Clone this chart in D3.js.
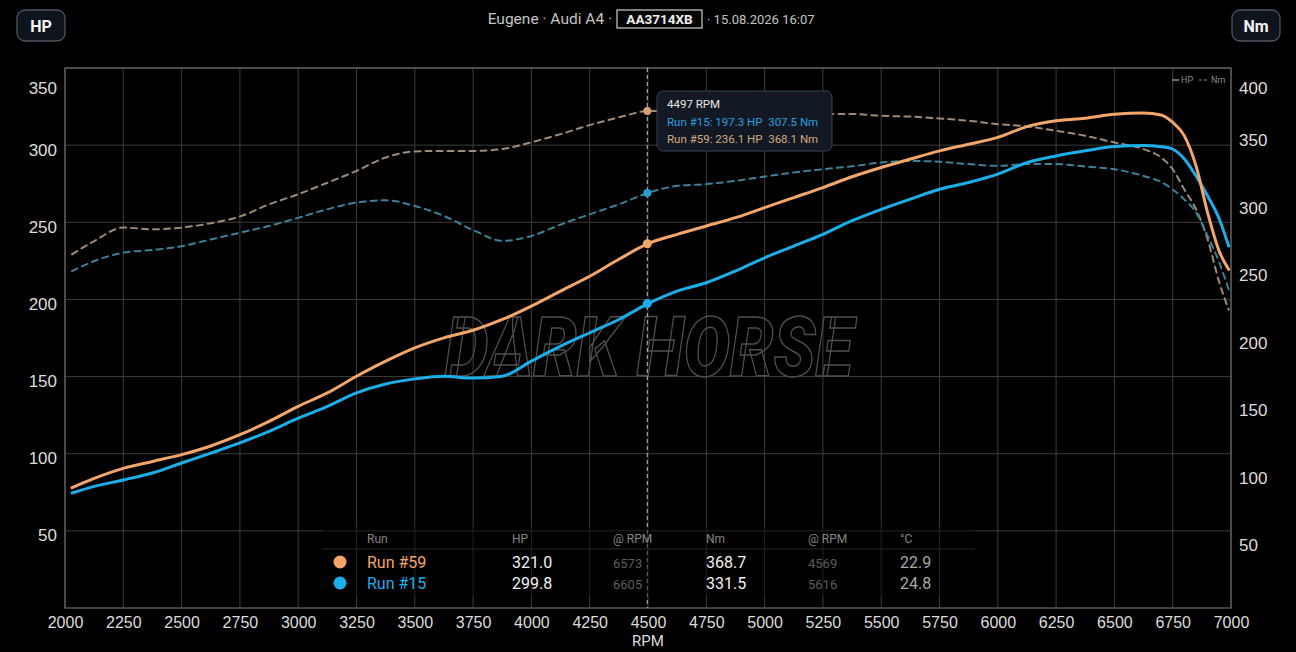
<!DOCTYPE html>
<html lang="en">
  <head>
    <meta charset="UTF-8" />
    <title>Dyno</title>
    <style>
      html, body { margin: 0; padding: 0; background: #000; }
      svg { display: block; font-family: Roboto, "Noto Sans", sans-serif; }
    </style>
  </head>
  <body>
    <svg id="chart"></svg>
    <script src="https://cdnjs.cloudflare.com/ajax/libs/d3/7.4.4/d3.min.js"></script>
    <script>
      // readings off the dyno sheet
      const rpm = [2030, 2125, 2250, 2375, 2500, 2625, 2750, 2875, 3000, 3125, 3250, 3375, 3500, 3625, 3750,
        3875, 4000, 4125, 4250, 4375, 4500, 4625, 4750, 4875, 5000, 5125, 5250, 5375, 5500, 5625, 5750,
        5875, 6000, 6125, 6250, 6375, 6500, 6625, 6700, 6750, 6800, 6850, 6900, 6950, 6990];

      const hp59 = [78, 84, 90.5, 95, 99.4, 105, 112.3, 121, 130.7, 139.4, 150.2, 160, 168.6, 175.1, 180,
        187, 195.7, 205.4, 215, 226, 236.1, 242.2, 247.6, 253, 259.5, 266, 272.5, 279.5, 285.5, 291, 296.3,
        300.6, 305, 312, 315.8, 317.5, 320, 320.8, 319.5, 314.7, 306, 286.6, 256, 231, 219.5];
      const hp15 = [74.5, 78.8, 83, 87.5, 94, 100.4, 107, 114.5, 123, 130.7, 139.4, 145.2, 148.5, 150.2, 149,
        150.2, 160, 169.7, 178.4, 187, 197.3, 205.4, 210.8, 218.4, 227, 234.6, 242.2, 251, 258.4, 265, 271.4,
        275.8, 281.2, 288.7, 293, 296.3, 299.1, 299.7, 299, 297.4, 291, 280, 267, 252, 234.6];
      const nm59 = [262, 271.8, 281.8, 280.5, 281.8, 285, 290, 299, 306.5, 315, 323.8, 333.7, 338.2, 338.6, 338.6,
        340, 345, 351, 357.7, 363.4, 368.1, 368.3, 367.6, 366.8, 366.5, 366.2, 366, 365.9, 364.6, 364, 362.6,
        360.9, 358.4, 356.7, 353.5, 349.8, 344.8, 339.9, 333.7, 325, 310, 295.4, 273, 241, 221];
      const nm15 = [249.6, 257, 263.2, 265.2, 268, 273, 278, 283, 289, 295.4, 300.3, 302, 297.8, 290.4, 280,
        272, 275.6, 284, 291.6, 299, 307.5, 312.7, 314, 316.4, 319.6, 322.6, 325, 327.2, 330, 331.2, 330.5,
        328.8, 327.5, 328.8, 328.8, 327, 325, 320, 315.6, 310, 302.6, 293, 275.6, 255.8, 236];

      const rpmTicks = d3.range(2000, 7001, 250);
      const hpTicks = [50, 100, 150, 200, 250, 300, 350];
      const nmTicks = [50, 100, 150, 200, 250, 300, 350, 400];

      // tooltip at cursor
      const tipRpm = 4497;
      const tipRuns = ["Run #15", "Run #59"];
      const tipHp = [197.3, 236.1];
      const tipNm = [307.5, 368.1];

      // summary table
      const runs = ["Run #59", "Run #15"];
      const maxHp = ["321.0", "299.8"];
      const maxHpRpm = ["6573", "6605"];
      const maxNm = ["368.7", "331.5"];
      const maxNmRpm = ["4569", "5616"];
      const temps = ["22.9", "24.8"];

      const W = 1296, H = 652;
      const L = 65, R = 1231, T = 68, B = 608;
      const colHp = { "Run #59": "#f2a66a", "Run #15": "#1caee8" };
      const colNm = { "Run #59": "#9e8b78", "Run #15": "#3b8197" };

      const svg = d3.select("#chart").attr("width", W).attr("height", H);
      svg.append("rect").attr("width", W).attr("height", H).attr("fill", "#000");

      const x = d3.scaleLinear().domain([2000, 7000]).range([L, R]);
      const yHp = d3.scaleLinear().domain([0, 350]).range([B, T]);
      const yNm = d3.scaleLinear().domain([0, 400]).range([B, T]);

      // grid
      const grid = svg.append("g");
      grid.selectAll(".vg").data(rpmTicks).join("line")
        .attr("x1", x).attr("x2", x).attr("y1", T).attr("y2", B)
        .attr("stroke", "#3d3d3d").attr("stroke-width", 1);
      grid.selectAll(".hg").data(hpTicks).join("line")
        .attr("x1", L).attr("x2", R).attr("y1", yHp).attr("y2", yHp)
        .attr("stroke", "#3d3d3d").attr("stroke-width", 1);
      svg.append("rect").attr("x", L).attr("y", T).attr("width", R - L).attr("height", B - T)
        .attr("fill", "none").attr("stroke", "#6a6a6a").attr("stroke-width", 1.2);

      // watermark
      svg.append("text").attr("x", 445).attr("y", 376)
        .attr("fill", "none").attr("stroke", "#4f4f4f").attr("stroke-width", 1.5)
        .attr("font-style", "italic").attr("font-weight", 900).attr("font-size", 84)
        .attr("textLength", 408).attr("lengthAdjust", "spacingAndGlyphs")
        .text("DARK HORSE");

      // axes
      const fmtAxis = (g, anchor, dx) => {
        g.select(".domain").remove();
        g.selectAll(".tick line").remove();
        g.selectAll(".tick text").attr("fill", "#dcdcdc").attr("font-size", 17)
          .attr("text-anchor", anchor).attr("x", dx);
      };
      svg.append("g").attr("transform", `translate(${L},0)`)
        .call(d3.axisLeft(yHp).tickValues(hpTicks).tickSize(0))
        .call((g) => fmtAxis(g, "end", -8))
        .selectAll(".tick text").attr("dy", (d) => (d === 350 ? 25 : 10));
      svg.append("g").attr("transform", `translate(${R},0)`)
        .call(d3.axisRight(yNm).tickValues(nmTicks).tickSize(0))
        .call((g) => fmtAxis(g, "start", 8))
        .selectAll(".tick text").attr("dy", (d) => (d === 400 ? 25 : 10));
      const xa = svg.append("g").attr("transform", `translate(0,${B})`)
        .call(d3.axisBottom(x).tickValues(rpmTicks).tickSize(0).tickFormat(d3.format("d")));
      xa.select(".domain").remove();
      xa.selectAll(".tick text").attr("fill", "#dcdcdc").attr("font-size", 16).attr("y", 20).attr("dy", 0);
      svg.append("text").attr("x", x(4500)).attr("y", 646).attr("text-anchor", "middle")
        .attr("fill", "#dcdcdc").attr("font-size", 15).text("RPM");

      // curves
      const lineOf = (scale) => d3.line().x((d) => x(d[0])).y((d) => scale(d[1])).curve(d3.curveMonotoneX);
      const series = [
        { run: "Run #59", kind: "nm", vals: nm59 },
        { run: "Run #15", kind: "nm", vals: nm15 },
        { run: "Run #15", kind: "hp", vals: hp15 },
        { run: "Run #59", kind: "hp", vals: hp59 },
      ];
      series.forEach((s) => {
        const pts = rpm.map((r, i) => [r, s.vals[i]]);
        svg.append("path").datum(pts)
          .attr("d", lineOf(s.kind === "hp" ? yHp : yNm))
          .attr("fill", "none")
          .attr("stroke", s.kind === "hp" ? colHp[s.run] : colNm[s.run])
          .attr("stroke-width", s.kind === "hp" ? 3 : 2)
          .attr("stroke-dasharray", s.kind === "hp" ? null : "6,5")
          .attr("stroke-linecap", "round");
      });

      // crosshair + markers
      svg.append("line").attr("x1", x(tipRpm)).attr("x2", x(tipRpm)).attr("y1", T).attr("y2", B)
        .attr("stroke", "#bdbdbd").attr("stroke-width", 1).attr("stroke-dasharray", "4,3");
      tipRuns.forEach((r, i) => {
        svg.append("circle").attr("cx", x(tipRpm)).attr("cy", yHp(tipHp[i])).attr("r", 4.5).attr("fill", colHp[r]);
        svg.append("circle").attr("cx", x(tipRpm)).attr("cy", yNm(tipNm[i])).attr("r", 4)
          .attr("fill", r === "Run #59" ? "#d9a070" : "#2a9ed0");
      });

      // tooltip
      const tip = svg.append("g").attr("transform", "translate(657,91)");
      tip.append("rect").attr("width", 175).attr("height", 60).attr("rx", 6)
        .attr("fill", "#121925").attr("stroke", "#3a4252").attr("stroke-width", 1);
      tip.append("text").attr("x", 10).attr("y", 17).attr("font-size", 11.5).attr("fill", "#e6e6e6")
        .text(`${tipRpm} RPM`);
      tipRuns.forEach((r, i) => {
        tip.append("text").attr("x", 10).attr("y", 35 + i * 17).attr("font-size", 11.5)
          .attr("fill", r === "Run #15" ? "#2c9fdc" : "#d7a77c")
          .attr("xml:space", "preserve")
          .text(`${r}: ${tipHp[i].toFixed(1)} HP  ${tipNm[i].toFixed(1)} Nm`);
      });

      // legend top right
      const lg = svg.append("g").attr("transform", "translate(1172,80)").attr("font-size", 9).attr("fill", "#8c8c8c");
      lg.append("line").attr("x1", 0).attr("x2", 7).attr("y1", 0).attr("y2", 0).attr("stroke", "#8c8c8c").attr("stroke-width", 1.5);
      lg.append("text").attr("x", 9).attr("y", 3).text("HP");
      lg.append("line").attr("x1", 27).attr("x2", 36).attr("y1", 0).attr("y2", 0).attr("stroke", "#8c8c8c")
        .attr("stroke-width", 1.2).attr("stroke-dasharray", "3,2");
      lg.append("text").attr("x", 39).attr("y", 3).text("Nm");

      // summary table
      const tb = svg.append("g");
      tb.append("rect").attr("x", 322).attr("y", 527).attr("width", 653).attr("height", 70)
        .attr("fill", "rgba(0,0,0,0.45)");
      tb.append("line").attr("x1", 322).attr("x2", 975).attr("y1", 549).attr("y2", 549)
        .attr("stroke", "#262626").attr("stroke-width", 1);
      const cols = [367, 512, 613, 706, 808, 900];
      const heads = ["Run", "HP", "@ RPM", "Nm", "@ RPM", "°C"];
      tb.selectAll(".th").data(heads).join("text")
        .attr("x", (d, i) => cols[i]).attr("y", 543).attr("font-size", 12).attr("fill", "#858585").text((d) => d);
      runs.forEach((r, i) => {
        const yy = 568 + i * 21;
        tb.append("circle").attr("cx", 340).attr("cy", yy - 6).attr("r", 6.5).attr("fill", colHp[r]);
        tb.append("text").attr("x", cols[0]).attr("y", yy).attr("font-size", 16).attr("fill", colHp[r]).text(r);
        tb.append("text").attr("x", cols[1]).attr("y", yy).attr("font-size", 16).attr("fill", "#f2f2f2").text(maxHp[i]);
        tb.append("text").attr("x", cols[2]).attr("y", yy).attr("font-size", 13).attr("fill", "#5e5e5e").text(maxHpRpm[i]);
        tb.append("text").attr("x", cols[3]).attr("y", yy).attr("font-size", 16).attr("fill", "#f2f2f2").text(maxNm[i]);
        tb.append("text").attr("x", cols[4]).attr("y", yy).attr("font-size", 13).attr("fill", "#5e5e5e").text(maxNmRpm[i]);
        tb.append("text").attr("x", cols[5]).attr("y", yy).attr("font-size", 16).attr("fill", "#a8a8a8").text(temps[i]);
      });

      // header
      const badge = (cx, label) => {
        svg.append("rect").attr("x", cx - 24).attr("y", 10).attr("width", 48).attr("height", 31).attr("rx", 8)
          .attr("fill", "#0e141c").attr("stroke", "#4d545d").attr("stroke-width", 1.3);
        svg.append("text").attr("x", cx).attr("y", 32).attr("text-anchor", "middle")
          .attr("font-size", 16).attr("font-weight", 700).attr("fill", "#f4f4f4").text(label);
      };
      badge(41, "HP");
      badge(1256, "Nm");
      svg.append("text").attr("x", 612).attr("y", 23.5).attr("text-anchor", "end")
        .attr("font-size", 15.5).attr("fill", "#c4c4c4").text("Eugene · Audi A4 ·");
      svg.append("rect").attr("x", 617).attr("y", 10).attr("width", 85).attr("height", 18)
        .attr("fill", "#050505").attr("stroke", "#cfcfcf").attr("stroke-width", 1.2);
      svg.append("text").attr("x", 659.5).attr("y", 24).attr("text-anchor", "middle")
        .attr("font-size", 13.5).attr("font-weight", 700).attr("fill", "#f0f0f0").text("AA3714XB");
      svg.append("text").attr("x", 707).attr("y", 23.5).attr("font-size", 13).attr("fill", "#c4c4c4")
        .text("· 15.08.2026 16:07");
    </script>
  </body>
</html>
